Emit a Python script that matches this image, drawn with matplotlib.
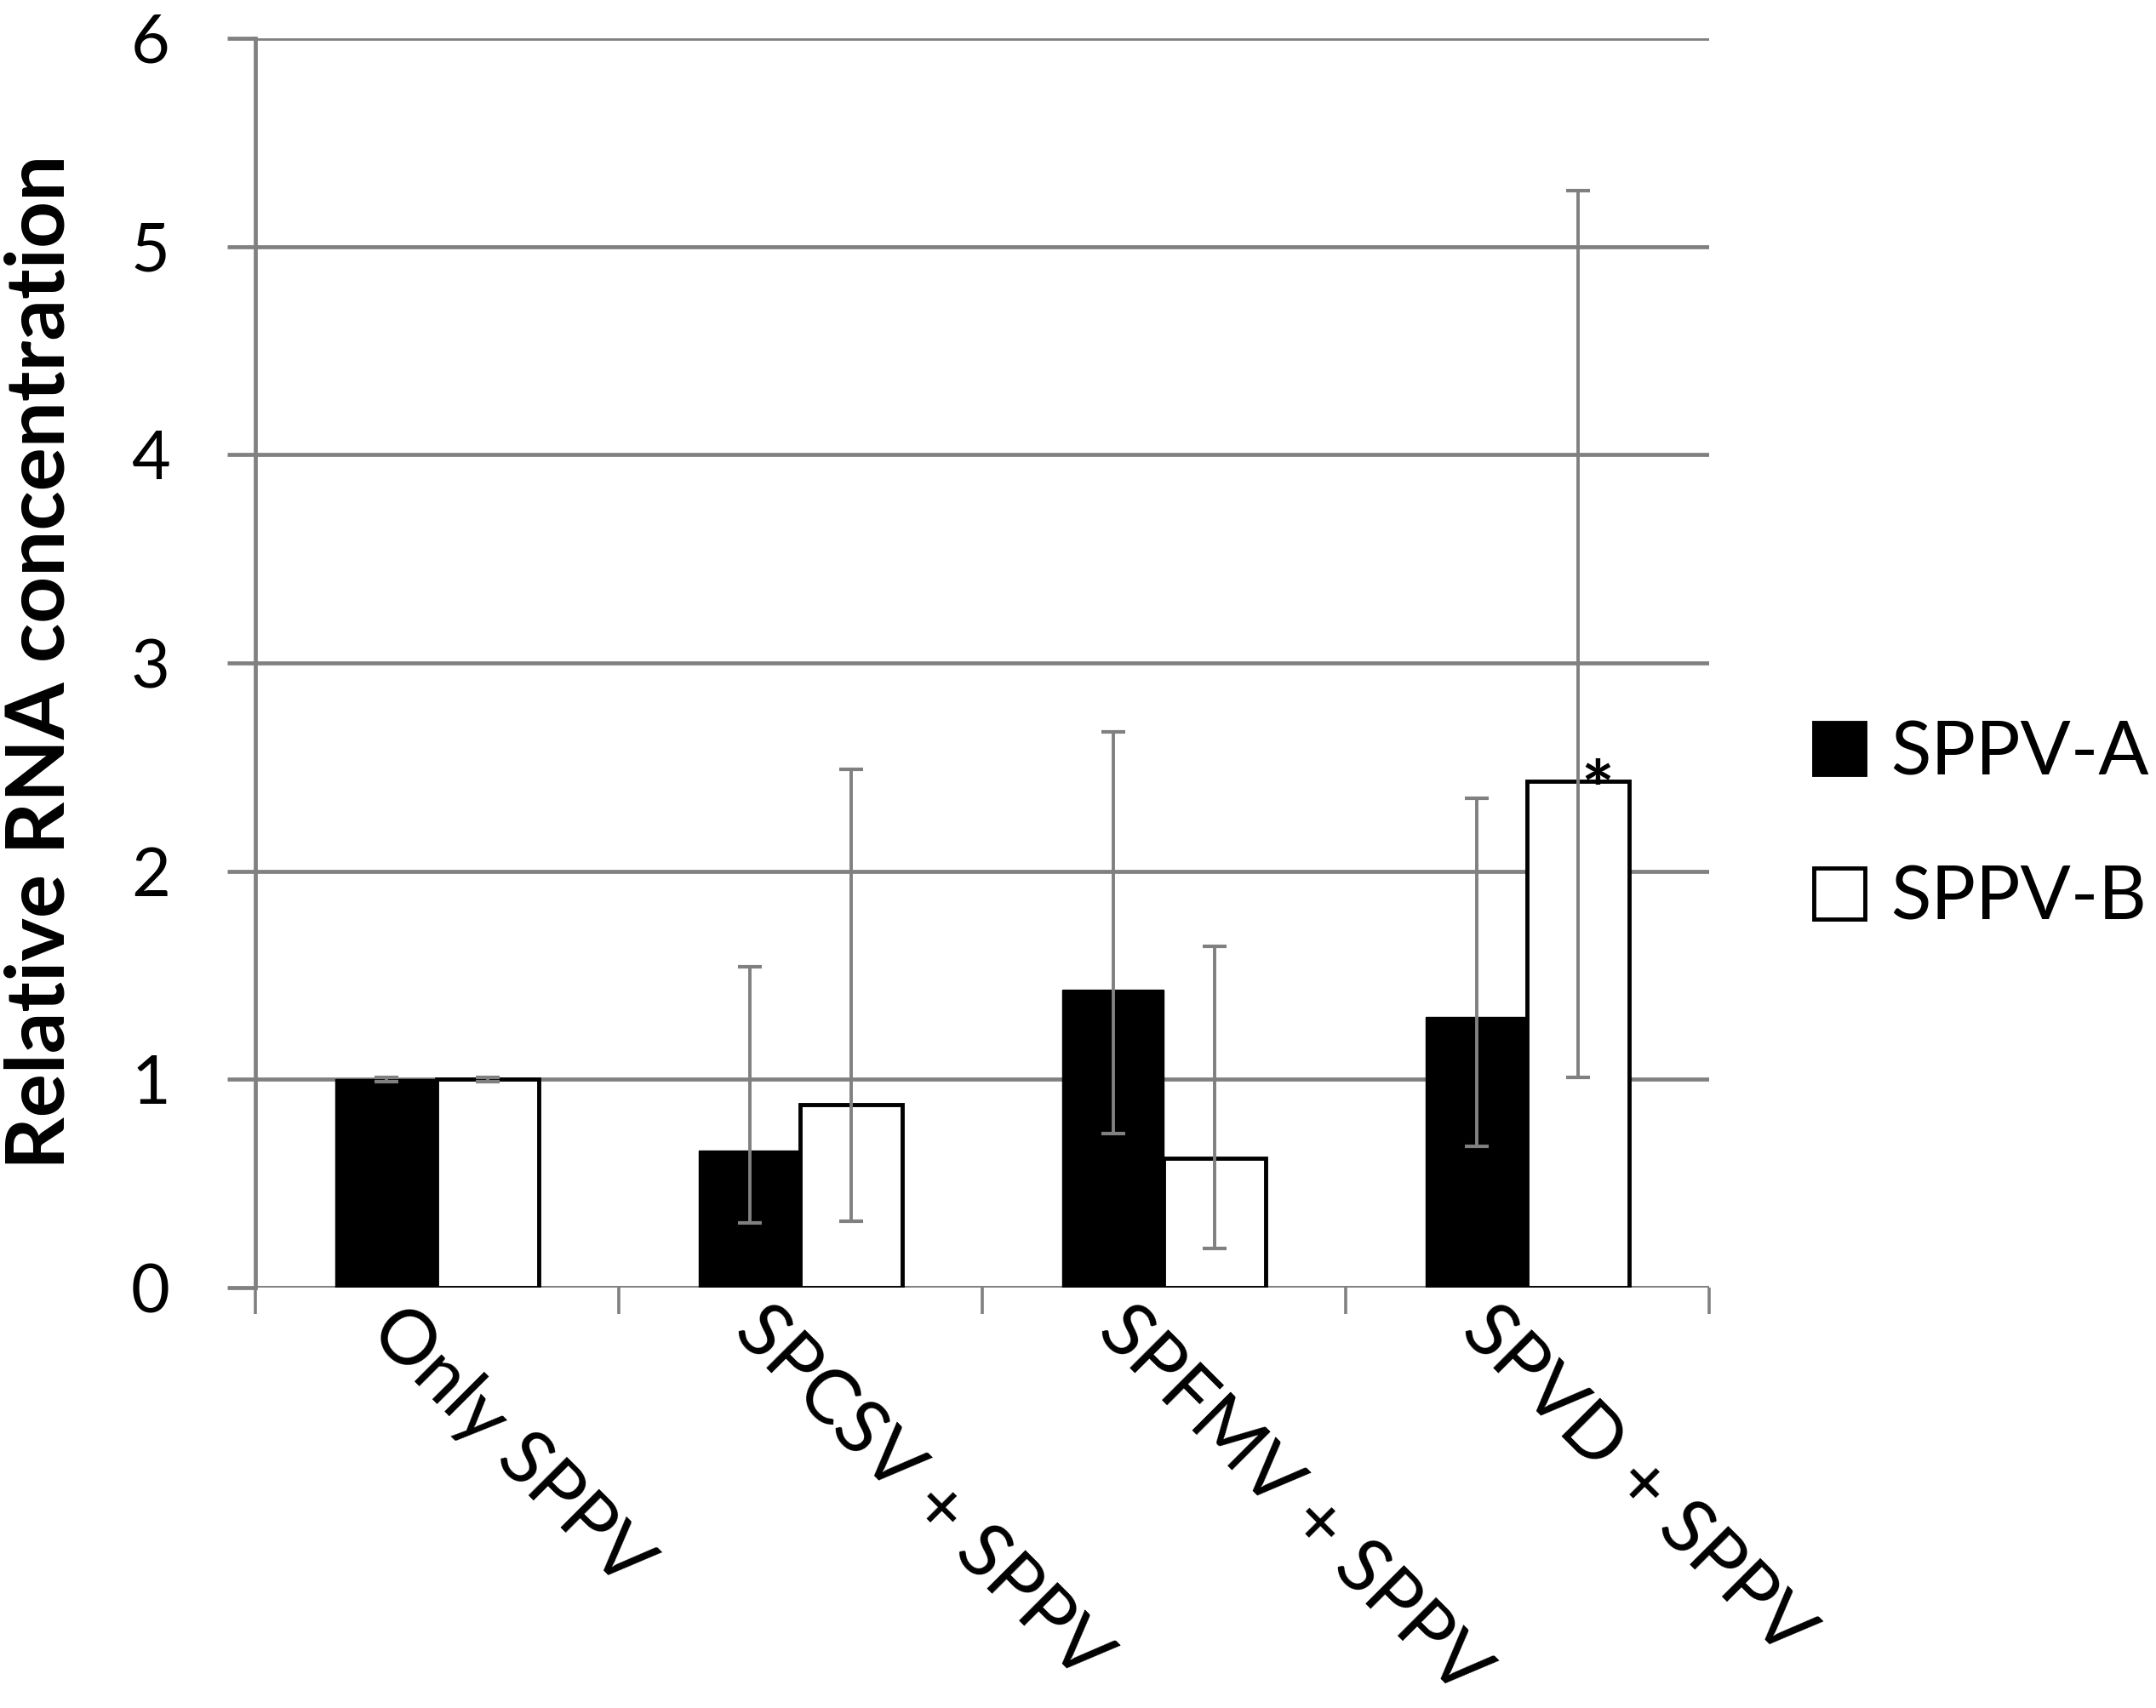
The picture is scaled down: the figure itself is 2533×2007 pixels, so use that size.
import numpy as np
import matplotlib
matplotlib.use('Agg')
import matplotlib.pyplot as plt
import matplotlib.transforms as mtransforms

plt.rcParams['font.family'] = ['Lato', 'DejaVu Sans']

# データ
categories = ['Only SPPV', 'SPCSV + SPPV', 'SPFMV + SPPV', 'SPVD + SPPV']
series_names = ['SPPV-A', 'SPPV-B']
sppv_a = [1.00, 0.66, 1.43, 1.30]
sppv_b = [1.00, 0.88, 0.62, 2.43]
# エラーバーの下端・上端
sppv_a_low = [0.99, 0.31, 0.74, 0.68]
sppv_a_high = [1.01, 1.54, 2.67, 2.35]
sppv_b_low = [0.99, 0.32, 0.19, 1.01]
sppv_b_high = [1.01, 2.49, 1.64, 5.27]
star_index = 3  # SPPV-B に * 印
y_ticks = [0, 1, 2, 3, 4, 5, 6]

GRAY = '#808080'


def main():
    fig = plt.figure(figsize=(25.33, 20.07), dpi=100)
    ax = fig.add_axes([0.1184, 0.2461, 0.7927 - 0.1184, 0.9776 - 0.2461])

    x = np.arange(len(categories))
    w = 0.28

    a = np.array(sppv_a)
    b = np.array(sppv_b)
    a_err = [a - np.array(sppv_a_low), np.array(sppv_a_high) - a]
    b_err = [b - np.array(sppv_b_low), np.array(sppv_b_high) - b]

    ax.bar(x - w / 2, a, width=w, color='black', edgecolor='black',
           linewidth=1, label=series_names[0], zorder=3)
    ax.bar(x + w / 2, b, width=w, color='white', edgecolor='black',
           linewidth=3.5, label=series_names[1], zorder=3)

    ekw = dict(fmt='none', ecolor=GRAY, elinewidth=2.8, capsize=10,
               capthick=3.0, zorder=4)
    ax.errorbar(x - w / 2, a, yerr=a_err, **ekw)
    ax.errorbar(x + w / 2, b, yerr=b_err, **ekw)

    # * 印
    ax.annotate('*', xy=(x[star_index] + w / 2, b[star_index]),
                xytext=(16, -12), textcoords='offset points',
                ha='center', va='center', fontsize=66, fontweight='bold',
                zorder=5)

    # 軸
    ax.set_xlim(-0.5, len(categories) - 0.5)
    ax.set_ylim(0, 6)
    ax.set_yticks(y_ticks)
    ax.set_yticklabels([str(t) for t in y_ticks], fontsize=57)
    ax.tick_params(axis='y', length=24, width=3.4, color=GRAY, pad=48)

    # カテゴリ境界に目盛り、ラベルは斜め45度
    ax.set_xticks(np.arange(-0.5, len(categories)))
    ax.set_xticklabels([])
    ax.tick_params(axis='x', length=22, width=2.6, color=GRAY)
    lbl_tr = ax.get_xaxis_transform() + mtransforms.ScaledTranslation(
        -25 / 72, -6 / 72, fig.dpi_scale_trans)
    for i, name in enumerate(categories):
        ax.text(x[i], 0, name, transform=lbl_tr, fontsize=64, rotation=-45,
                rotation_mode='anchor', ha='left', va='top', clip_on=False)

    ax.grid(True, axis='y', color=GRAY, linewidth=3.4, zorder=1)
    ax.set_axisbelow(True)
    for s in ['top', 'right', 'bottom']:
        ax.spines[s].set_visible(False)
    ax.spines['left'].set_color(GRAY)
    ax.spines['left'].set_linewidth(3.4)
    ax.axhline(0, color=GRAY, linewidth=3.4, zorder=2)

    fig.text(0.019, 0.6124, 'Relative RNA concentration', rotation=90,
             ha='center', va='center', fontsize=69, fontweight='bold')

    leg = fig.legend(loc='center left', bbox_to_anchor=(0.8413, 0.5162),
                     frameon=False, fontsize=63, handlelength=0.686,
                     handleheight=0.686, handletextpad=0.34,
                     labelspacing=1.05, borderaxespad=0, borderpad=0)
    for h in leg.legend_handles:
        h.set_linewidth(3.5)

    fig.savefig('out.png', dpi=100, facecolor='white')


if __name__ == "__main__":
    main()
